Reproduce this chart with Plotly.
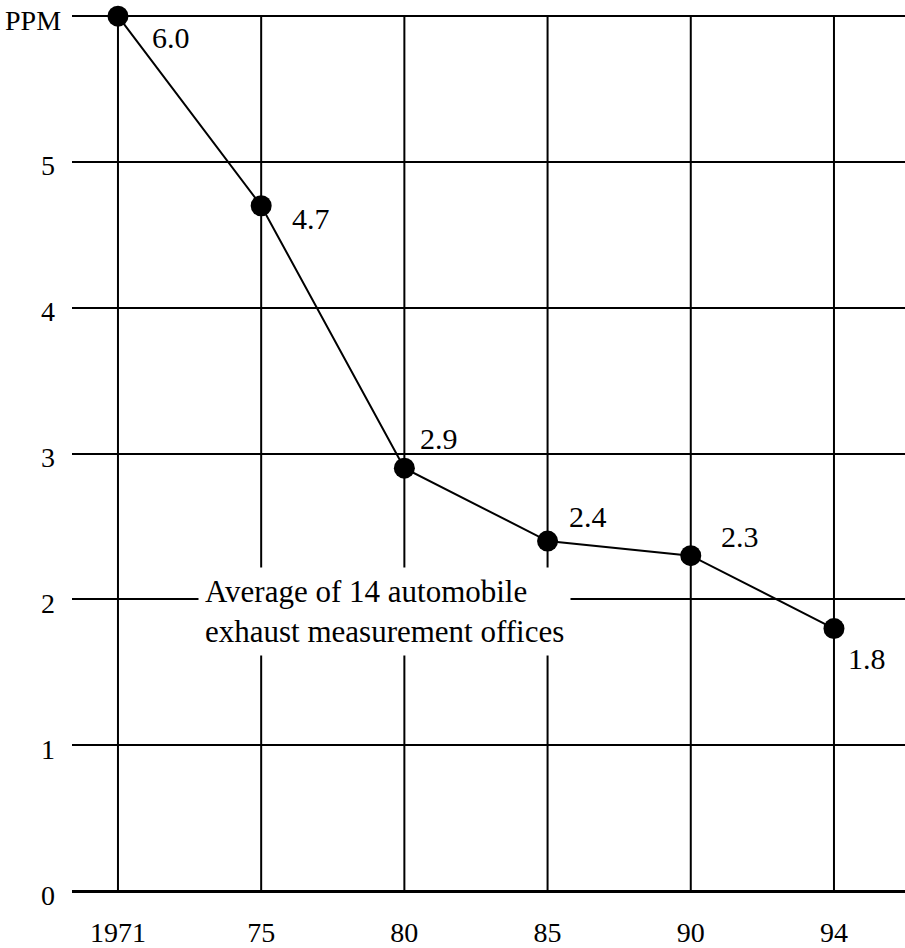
import plotly.graph_objects as go

# Average concentration (PPM) by year
years = ["1971", "75", "80", "85", "90", "94"]
ppm = [6.0, 4.7, 2.9, 2.4, 2.3, 1.8]
y_ticks = [0, 1, 2, 3, 4, 5, 6]
y_tick_text = ["0", "1", "2", "3", "4", "5", "PPM"]
note = "Average of 14 automobile<br>exhaust measurement offices"

# pixel offsets of each value label from its point (dx right, dy down)
label_offsets = [(53, 21), (50, 13), (35, -30), (40, -25), (49, -19), (33, 30)]

FONT = "Liberation Serif"
idx = list(range(len(years)))

fig = go.Figure()
fig.add_trace(go.Scatter(
    x=idx, y=ppm, mode="lines+markers",
    line=dict(color="black", width=2),
    marker=dict(color="black", size=21),
    cliponaxis=False, hoverinfo="skip", showlegend=False,
))

# vertical rules at each year, spanning 0..6
shapes = []
for i in idx:
    shapes.append(dict(type="line", xref="x", yref="y", x0=i, x1=i,
                       y0=y_ticks[0], y1=y_ticks[-1],
                       line=dict(color="black", width=2), layer="below"))

annotations = []
for i, v in enumerate(ppm):
    dx, dy = label_offsets[i]
    annotations.append(dict(x=i, y=v, xref="x", yref="y", text=f"{v:.1f}",
                            showarrow=False, xshift=dx, yshift=-dy,
                            font=dict(family=FONT, size=30, color="black")))

# y-axis labels on the left
for t, txt in zip(y_ticks, y_tick_text):
    annotations.append(dict(x=0, y=t, xref="paper", yref="y", text=txt,
                            showarrow=False, xanchor="right", yanchor="middle",
                            xshift=-9 if txt == "PPM" else -15, yshift=-4,
                            font=dict(family=FONT, size=28, color="black")))

annotations.append(dict(x=0.56, y=1.92, xref="x", yref="y", text=note,
                        showarrow=False, xanchor="left", yanchor="middle",
                        align="left", bgcolor="white", borderpad=6,
                        font=dict(family=FONT, size=31, color="black")))

fig.update_layout(
    width=905, height=948,
    margin=dict(l=72, r=0, t=0, b=43),
    paper_bgcolor="white", plot_bgcolor="white",
    shapes=shapes, annotations=annotations,
    font=dict(family=FONT, color="black"),
    xaxis=dict(range=[-0.321, 5.496], tickvals=idx, ticktext=years,
               showgrid=False, zeroline=False, showline=False, ticks="",
               ticklabelstandoff=8,
               tickfont=dict(family=FONT, size=28, color="black")),
    yaxis=dict(range=[-0.096, 6.111], tickvals=y_ticks, showticklabels=False,
               showgrid=True, gridcolor="black", gridwidth=2,
               zeroline=True, zerolinecolor="black", zerolinewidth=3,
               showline=False, ticks=""),
)

fig.write_html("out.html")
